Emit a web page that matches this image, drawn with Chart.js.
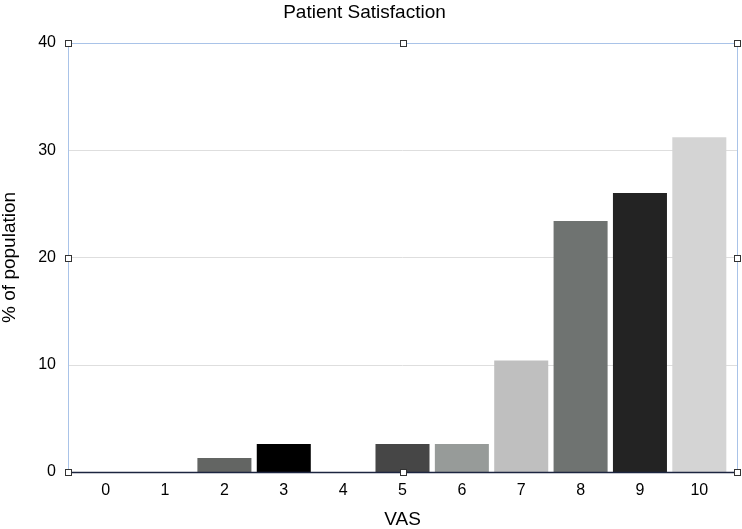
<!DOCTYPE html>
<html>
<head>
<meta charset="utf-8">
<script src="https://cdn.jsdelivr.net/npm/chart.js@4/dist/chart.umd.min.js"></script>
<style>
html,body{margin:0;padding:0;background:#fff;}
#wrap{width:742px;height:529px;}
</style>
</head>
<body>
<div id="wrap"><canvas id="c" width="742" height="529"></canvas></div>
<script>
const categories = ["0","1","2","3","4","5","6","7","8","9","10"];
const values = [0, 0, 1.3, 2.6, 0, 2.6, 2.6, 10.4, 23.4, 26.0, 31.2];
const barColors = ["#888888","#888888","#636563","#000000","#888888","#464646","#979b99","#bfbfbf","#6f7371","#232323","#d4d4d4"];
const yTicks = [0, 10, 20, 30, 40];

const FONT = "'Liberation Sans', Arial, Helvetica, sans-serif";
const EXT = 8;

const framePlugin = {
  id: 'frame',
  beforeDatasetsDraw(chart) {
    const {ctx, chartArea: a, scales: {y}} = chart;
    const L = a.left - EXT, R = a.right + EXT;
    ctx.save();
    ctx.strokeStyle = '#dedede';
    ctx.lineWidth = 1;
    yTicks.forEach(v => {
      if (v === 0 || v === 40) return;
      const py = Math.round(y.getPixelForValue(v)) + 0.5;
      ctx.beginPath(); ctx.moveTo(L, py); ctx.lineTo(R, py); ctx.stroke();
    });
    ctx.restore();
  },
  afterDatasetsDraw(chart) {
    const {ctx, chartArea: a, scales: {y}} = chart;
    const L = Math.round(a.left - EXT) + 0.5, R = Math.round(a.right + EXT) + 0.5;
    const T = Math.round(y.getPixelForValue(40)) + 0.5;
    const B = Math.round(y.getPixelForValue(0)) + 0.5;
    ctx.save();
    ctx.strokeStyle = '#a9c3e8';
    ctx.lineWidth = 1;
    ctx.beginPath();
    ctx.moveTo(L, B); ctx.lineTo(L, T); ctx.lineTo(R, T); ctx.lineTo(R, B);
    ctx.stroke();
    ctx.strokeStyle = '#1c2540';
    ctx.lineWidth = 1.5;
    ctx.beginPath(); ctx.moveTo(L, B); ctx.lineTo(R, B); ctx.stroke();
    const mx = Math.round((L + R) / 2) + 0.5, my = Math.round((T + B) / 2) + 0.5;
    const pts = [[L,T],[mx,T],[R,T],[L,my],[R,my],[L,B],[mx,B],[R,B]];
    ctx.fillStyle = '#ffffff';
    ctx.strokeStyle = '#333333';
    ctx.lineWidth = 1;
    pts.forEach(([px,py]) => {
      ctx.fillRect(px - 3, py - 3, 6, 6);
      ctx.strokeRect(px - 3, py - 3, 6, 6);
    });
    ctx.restore();
  }
};

new Chart(document.getElementById('c'), {
  type: 'bar',
  data: {
    labels: categories,
    datasets: [{
      data: values,
      backgroundColor: barColors,
      borderWidth: 0,
      barPercentage: 0.91,
      categoryPercentage: 1.0
    }]
  },
  options: {
    responsive: false,
    animation: false,
    devicePixelRatio: 1,
    layout: { padding: { left: 0, right: 13, top: 0, bottom: 0 } },
    plugins: {
      legend: { display: false },
      tooltip: { enabled: false },
      title: {
        display: true,
        text: 'Patient Satisfaction',
        color: '#000',
        font: { family: FONT, size: 19, weight: 'normal' },
        padding: { top: 1, bottom: 19 }
      }
    },
    scales: {
      x: {
        offset: true,
        afterFit(scale) { scale.height = 57; },
        grid: { display: false, drawTicks: false },
        border: { display: false },
        ticks: { color: '#000', font: { family: FONT, size: 16 }, padding: 9, maxRotation: 0 },
        title: {
          display: true, text: 'VAS', color: '#000',
          font: { family: FONT, size: 19, lineHeight: 1 }, padding: { top: 10, bottom: 0 }
        }
      },
      y: {
        min: 0, max: 40,
        afterFit(scale) { scale.width = 76; },
        afterBuildTicks(scale) { scale.ticks = yTicks.map(v => ({value: v})); },
        grid: { display: false, drawTicks: false },
        border: { display: false },
        ticks: { color: '#000', font: { family: FONT, size: 16 }, padding: 20 },
        title: {
          display: true, text: '% of population', color: '#000',
          font: { family: FONT, size: 19, lineHeight: 1 }, padding: { top: 0, bottom: 0 }
        }
      }
    }
  },
  plugins: [framePlugin]
});
</script>
</body>
</html>
